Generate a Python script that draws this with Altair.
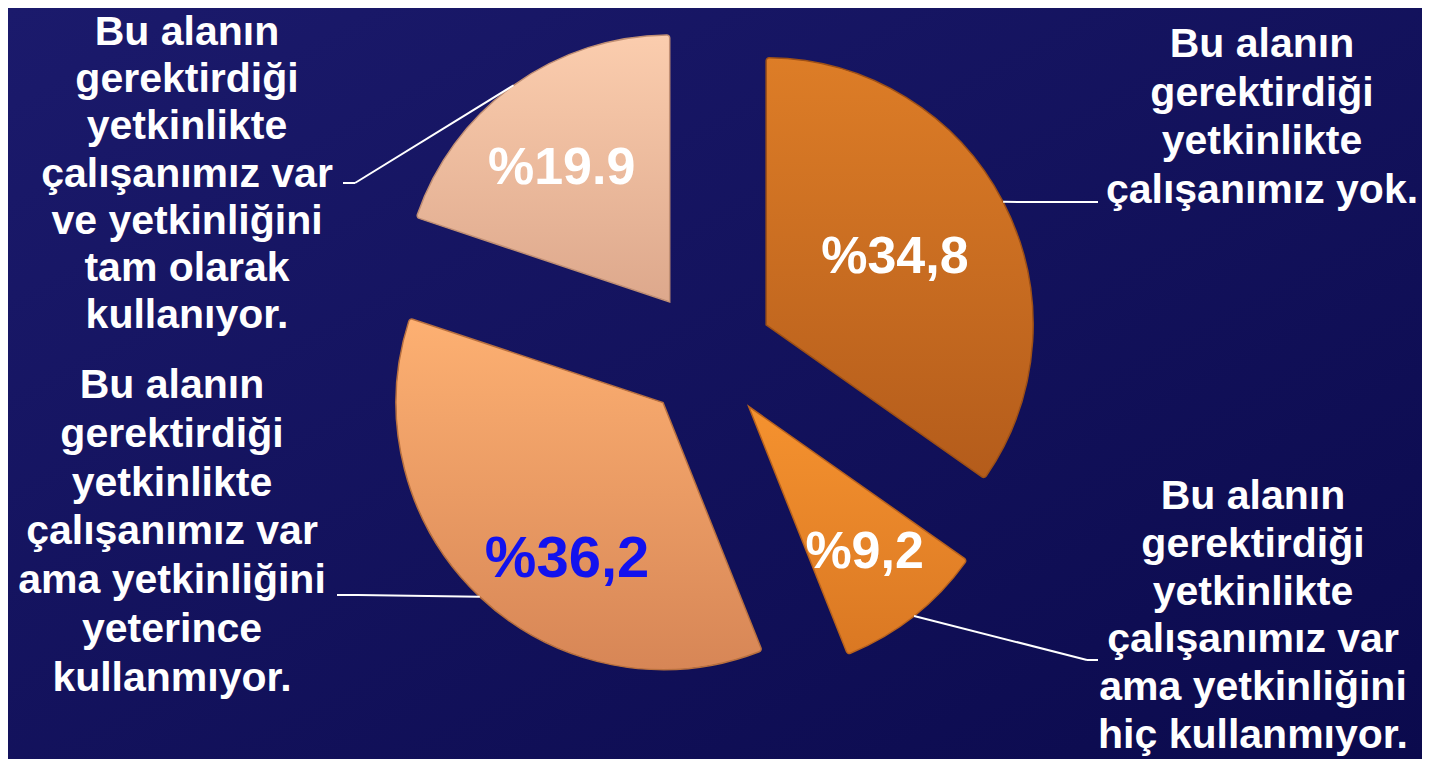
import altair as alt
import pandas as pd

# ---------------- data ----------------
categories = [
    "Bu alanın\ngerektirdiği\nyetkinlikte\nçalışanımız yok.",
    "Bu alanın\ngerektirdiği\nyetkinlikte\nçalışanımız var\nama yetkinliğini\nhiç kullanmıyor.",
    "Bu alanın\ngerektirdiği\nyetkinlikte\nçalışanımız var\nama yetkinliğini\nyeterince\nkullanmıyor.",
    "Bu alanın\ngerektirdiği\nyetkinlikte\nçalışanımız var\nve yetkinliğini\ntam olarak\nkullanıyor.",
]
values = [34.8, 9.2, 36.2, 19.9]
value_labels = ["%34,8", "%9,2", "%36,2", "%19.9"]

# ---------------- layout / style ----------------
W, H = 1414, 751
CX, CY = 700, 347          # pie centre (px)
R = 267                    # pie radius (px)
EXPLODE = 65.5             # explosion distance (px)
pct_r = [147, 184, 182, 174]          # radius of value label from slice apex
pct_dang = [-1.4, -0.8, -11.5, -2.6]  # angular shift of value label (deg)
name_x = [1254, 1245, 164, 179]       # category label centre x
name_y = [49, 501, 390, 37]           # first baseline of category label
name_lh = [48.5, 47.8, 48.8, 47.2]    # line height of category label
elbow_x = [1082, 1079, 350, 347]
elbow_y = [194, 652, 587, 175]
tick_x = [1090, 1090, 329, 335]

slice_grad = [
    ("#DD7D27", "#B45C1B"),
    ("#F5922F", "#DA7823"),
    ("#FDB072", "#D78656"),
    ("#FBCDAE", "#DDA88C"),
]
slice_stroke = ["#9E5016", "#B8621D", "#B8703F", "#C08F74"]

df = pd.DataFrame({
    "idx": list(range(len(values))),
    "category": categories,
    "value": values,
    "vlabel": value_labels,
    "pr": pct_r,
    "pdang": pct_dang,
    "nx": name_x,
    "ny": name_y,
    "ex": elbow_x,
    "ey": elbow_y,
    "tx": tick_x,
})

base = (
    alt.Chart(df)
    .transform_joinaggregate(total="sum(value)")
    .transform_window(cum="sum(value)", sort=[alt.SortField("idx")], frame=[None, 0])
    .transform_calculate(t0="(datum.cum - datum.value) / datum.total * 2 * PI")
    .transform_calculate(t1="datum.cum / datum.total * 2 * PI")
    .transform_calculate(mid="(datum.t0 + datum.t1) / 2")
    .transform_calculate(cx=f"{CX} + {EXPLODE} * sin(datum.mid)")
    .transform_calculate(cy=f"{CY} - {EXPLODE} * cos(datum.mid)")
    .transform_calculate(ax=f"datum.cx + {R} * sin(datum.mid)")
    .transform_calculate(ay=f"datum.cy - {R} * cos(datum.mid)")
    .transform_calculate(lang="datum.mid + datum.pdang * PI / 180")
    .transform_calculate(lx="datum.cx + datum.pr * sin(datum.lang)")
    .transform_calculate(ly="datum.cy - datum.pr * cos(datum.lang)")
)

X = lambda f: alt.X(f"{f}:Q", scale=None, axis=None)
Y = lambda f: alt.Y(f"{f}:Q", scale=None, axis=None)

# background gradient
bg = alt.Chart(pd.DataFrame({"a": [0]})).mark_rect(
    fill=alt.Gradient(
        gradient="linear",
        stops=[alt.GradientStop(color="#1B1A6C", offset=0),
               alt.GradientStop(color="#0B0A4D", offset=1)],
        x1=0, y1=0, x2=1, y2=1,
    ),
    strokeWidth=0,
).encode(x=alt.value(0), x2=alt.value(W), y=alt.value(0), y2=alt.value(H))

layers = [bg]

# slices
for i in range(len(values)):
    top, bot = slice_grad[i]
    arc = base.transform_filter(f"datum.idx == {i}").mark_arc(
        radius=R,
        cornerRadius=3,
        fill=alt.Gradient(
            gradient="linear",
            stops=[alt.GradientStop(color=top, offset=0),
                   alt.GradientStop(color=bot, offset=1)],
            x1=0, y1=0, x2=0, y2=1,
        ),
        stroke=slice_stroke[i],
        strokeWidth=1.5,
    ).encode(
        x=X("cx"),
        y=Y("cy"),
        theta=alt.Theta("t0:Q", scale=None, stack=None),
        theta2="t1:Q",
    )
    layers.append(arc)

# leader lines
lead1 = base.mark_rule(color="white", strokeWidth=2).encode(
    x=X("ax"), y=Y("ay"), x2="ex:Q", y2="ey:Q"
)
lead2 = base.mark_rule(color="white", strokeWidth=2).encode(
    x=X("ex"), y=Y("ey"), x2="tx:Q", y2="ey:Q"
)
layers += [lead1, lead2]

# value labels
pct = base.mark_text(
    font="Liberation Sans", fontWeight="bold", align="center", baseline="middle", dy=3
).encode(
    x=X("lx"),
    y=Y("ly"),
    text="vlabel:N",
    color=alt.condition("datum.idx == 2", alt.value("#1212EE"), alt.value("white")),
    size=alt.condition("datum.idx == 2", alt.value(58), alt.value(52)),
)
layers.append(pct)

# category labels (one layer per label so each can keep its own line height)
for i in range(len(values)):
    names = base.transform_filter(f"datum.idx == {i}").mark_text(
        font="Liberation Sans", fontWeight="bold", fontSize=41, color="white",
        align="center", baseline="alphabetic", lineBreak="\n", lineHeight=name_lh[i],
    ).encode(x=X("nx"), y=Y("ny"), text="category:N")
    layers.append(names)

chart = alt.layer(*layers).properties(
    width=W, height=H,
    padding=0,
    autosize=alt.AutoSizeParams(type="none"),
    background="#131162",
).configure_view(stroke=None)

chart.save("out.html", embed_options={"renderer": "svg", "actions": False})
